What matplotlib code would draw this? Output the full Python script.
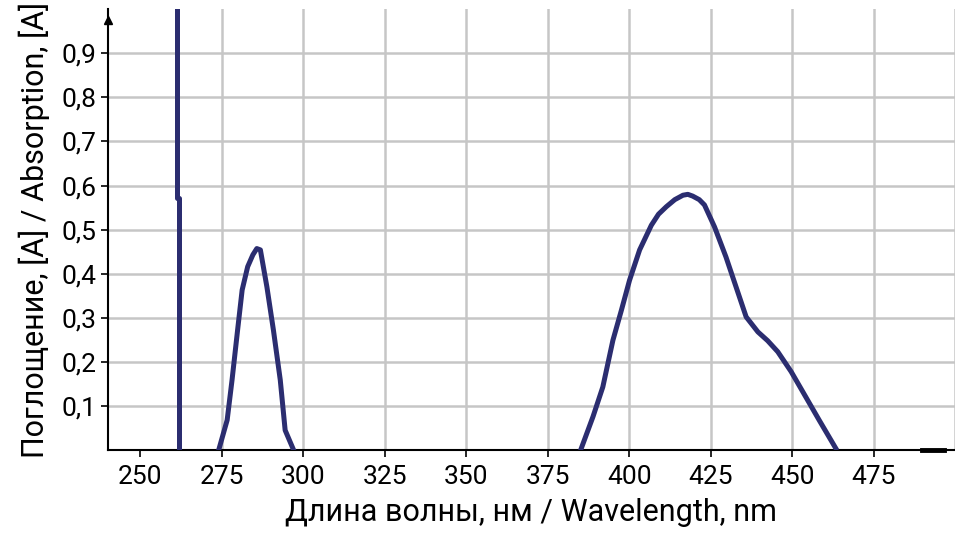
import numpy as np
import matplotlib.pyplot as plt

plt.rcParams['font.family'] = ['Roboto', 'DejaVu Sans']

# spectrum (nm, absorbance)
spike_wl = [261.3, 261.3, 261.8, 261.8]
spike_abs = [1.05, 0.571, 0.571, 0.0]

peak1_wl = [274.0, 276.6, 278.1, 279.8, 281.2, 282.9, 284.5, 285.7, 286.8,
            288.8, 290.8, 292.9, 294.4, 297.0]
peak1_abs = [0.0, 0.068, 0.159, 0.272, 0.363, 0.416, 0.443, 0.457, 0.454,
             0.370, 0.272, 0.159, 0.045, 0.0]

peak2_wl = [385.3, 388.9, 391.9, 395.0, 397.6, 400.1, 403.2, 406.8, 409.0,
            411.4, 414.0, 416.5, 418.0, 419.5, 421.5, 423.1, 426.2, 429.7,
            432.8, 435.9, 439.5, 442.5, 445.6, 449.7, 453.3, 458.3, 463.4]
peak2_abs = [0.004, 0.076, 0.143, 0.249, 0.317, 0.385, 0.454, 0.510, 0.535,
             0.552, 0.568, 0.578, 0.580, 0.576, 0.568, 0.556, 0.506, 0.438,
             0.370, 0.302, 0.268, 0.248, 0.223, 0.178, 0.132, 0.068, 0.004]

x_ticks = [250, 275, 300, 325, 350, 375, 400, 425, 450, 475]
y_ticks = [0.1, 0.2, 0.3, 0.4, 0.5, 0.6, 0.7, 0.8, 0.9]
y_labels = ['0,1', '0,2', '0,3', '0,4', '0,5', '0,6', '0,7', '0,8', '0,9']

line_color = '#2b2d70'

fig = plt.figure(figsize=(9.55, 5.39), dpi=100)
ax = fig.add_axes([0.113, 0.165, 0.887, 0.818])

# grid (no line at 250 in the original)
for x in [275, 300, 325, 350, 375, 400, 425, 450, 475, 500]:
    ax.axvline(x, color='#c6c6c6', lw=1.8, zorder=0)
for y in y_ticks:
    ax.axhline(y, color='#c6c6c6', lw=1.8, zorder=0)

ax.plot(spike_wl, spike_abs, color=line_color, lw=3.6, zorder=3)
ax.plot(peak1_wl, peak1_abs, color=line_color, lw=3.6, zorder=3)
ax.plot(peak2_wl, peak2_abs, color=line_color, lw=3.6, zorder=3)

ax.set_xlim(240, 500)
ax.set_ylim(0, 1.0)

ax.set_xticks(x_ticks)
ax.set_yticks(y_ticks)
ax.set_yticklabels(y_labels)
ax.tick_params(axis='both', labelsize=19, length=5, width=1.2, color='black')
ax.tick_params(axis='x', pad=6)

for s in ['top', 'right']:
    ax.spines[s].set_visible(False)
for s in ['left', 'bottom']:
    ax.spines[s].set_linewidth(1.5)

# arrow on y axis, marker at end of x axis
ax.plot([240], [0.975], marker='^', color='black', ms=6, clip_on=False, zorder=4)
ax.plot([490, 496.5], [0.0, 0.0], color='black', lw=3.5, clip_on=False, zorder=4)

ax.set_xlabel('Длина волны, нм / Wavelength, nm', fontsize=22, labelpad=6)
ax.set_ylabel('Поглощение, [A] / Absorption, [A]', fontsize=22, labelpad=8)

fig.savefig('out.png', dpi=100)
